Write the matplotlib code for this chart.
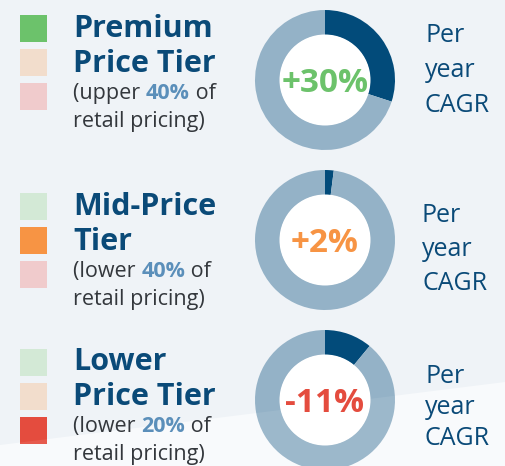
import matplotlib
matplotlib.use("Agg")
import matplotlib.pyplot as plt
from matplotlib.patches import Rectangle, Polygon, Circle

# data
tier_titles = ["Premium\nPrice Tier", "Mid-Price\nTier", "Lower\nPrice Tier"]
tier_sides = ["upper", "lower", "lower"]
tier_shares = ["40%", "40%", "20%"]
cagr = [30, 2, -11]
cagr_labels = ["+30%", "+2%", "-11%"]
highlight = [0, 1, 2]

full_colors = ["#6cc26b", "#f79444", "#e44c3e"]
pale_colors = ["#d3e9d6", "#f2ddcc", "#f0cbcc"]
label_colors = full_colors

W, H = 505, 466
BG = "#eff3f7"
BAND = "#f8fafc"
NAVY = "#024b7a"
RING = "#94b2c7"
TITLE = "#0a4a78"
SUB = "#33373c"
ACCENT = "#5b8fba"

plt.rcParams['font.family'] = ['Open Sans', 'DejaVu Sans']

fig = plt.figure(figsize=(W / 100, H / 100), dpi=100, facecolor=BG)
ax = fig.add_axes([0, 0, 1, 1])
ax.set_facecolor(BG)


def Y(y):
    return H - y


# layout per section (pixel rows from the top)
square_tops = [15, 193, 349]
title_base = [36.7, 215, 370]
donut_cy = [80, 240, 400]
label_base = [92, 252, 412]
per_base = [41.7, 221.7, 383]
per_step = [35, 34, 31]
per_x = [425, 422, 425]

# lighter diagonal band at the bottom
band = [(0, Y(445)), (W, Y(382)), (W, 0), (0, 0)]
ax.add_patch(Polygon(band, closed=True, color=BAND, lw=0, zorder=1))
ax.add_patch(Polygon(band, closed=True, color="white", alpha=0.08, lw=0, zorder=4))

for i in range(3):
    # three indicator squares
    for k in range(3):
        col = full_colors[k] if k == highlight[i] else pale_colors[k]
        top = square_tops[i] + k * 34
        ax.add_patch(Rectangle((20, Y(top + 27)), 27, 27, color=col, lw=0, zorder=2))

    # title and subtitle
    lines = tier_titles[i].split("\n")
    for j, ln in enumerate(lines):
        ax.text(73, Y(title_base[i] + 35 * j), ln, fontsize=22, fontweight='bold',
                color=TITLE, va='baseline', ha='left', zorder=8)
    sb = title_base[i] + 35 + 27
    t1 = ax.text(73, Y(sb), "(" + tier_sides[i] + " ", fontsize=15.5, color=SUB,
                 va='baseline', ha='left', zorder=8)
    t2 = ax.annotate(tier_shares[i], xycoords=t1, xy=(1, 0), fontsize=15.5,
                     fontweight='bold', color=ACCENT, va='bottom', ha='left', zorder=8)
    ax.annotate(" of", xycoords=t2, xy=(1, 0), fontsize=15.5, color=SUB,
                va='bottom', ha='left', zorder=8)
    ax.text(73, Y(sb + 28), "retail pricing)", fontsize=15.5, color=SUB,
            va='baseline', ha='left', zorder=8)

    # donut
    v = abs(cagr[i])
    cx, cy = 325, Y(donut_cy[i])
    wedges, _ = ax.pie([v, 100 - v], colors=[NAVY, RING], startangle=90,
                       counterclock=False, radius=70, center=(cx, cy), frame=True,
                       wedgeprops=dict(width=25, linewidth=0))
    for wd in wedges:
        wd.set_zorder(3)
    ax.add_patch(Circle((cx, cy), 45.5, color="white", lw=0, zorder=7))
    ax.text(cx, Y(label_base[i]), cagr_labels[i], fontsize=24, fontweight='bold',
            color=label_colors[i], va='baseline', ha='center', zorder=8)

    for j, w in enumerate(["Per", "year", "CAGR"]):
        ax.text(per_x[i], Y(per_base[i] + per_step[i] * j), w, fontsize=18,
                color=TITLE, va='baseline', ha='left', zorder=8)

ax.set_xlim(0, W)
ax.set_ylim(0, H)
ax.set_aspect('auto')
ax.axis('off')

fig.savefig("out.png", dpi=100, facecolor=BG)
